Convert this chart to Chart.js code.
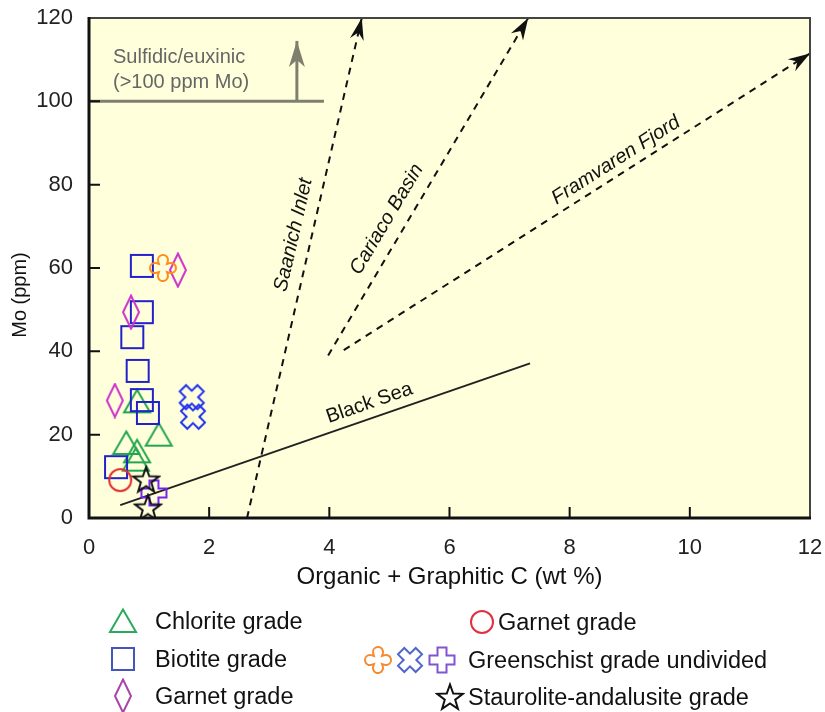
<!DOCTYPE html>
<html>
<head>
<meta charset="utf-8">
<script src="https://cdn.jsdelivr.net/npm/chart.js@4.4.1/dist/chart.umd.min.js"></script>
<style>
  body { margin: 0; background: #fff; font-family: "Liberation Sans", Arial, sans-serif; }
  #wrap { position: relative; width: 825px; height: 712px; }
  .leg { position: absolute; font-size: 23.5px; color: #111; line-height: 26px; white-space: nowrap; }
  .ico { position: absolute; }
</style>
</head>
<body>
<div id="wrap">
  <canvas id="chart" width="825" height="712"></canvas>
  <div id="legend"></div>
</div>
<script>
// --- data ---
const chloriteC = [0.80, 1.16, 0.62, 0.80, 0.78];
const chloriteMo = [28, 20, 18, 16, 14];

const biotiteC = [0.88, 0.88, 0.72, 0.81, 0.88, 0.98, 0.45];
const biotiteMo = [60.5, 49.4, 43.4, 35.3, 28.3, 25.2, 12.2];

const garnetDiamondC = [1.48, 0.70, 0.43];
const garnetDiamondMo = [59.5, 49.4, 28.2];

const garnetCircleC = [0.52];
const garnetCircleMo = [9.1];

const greenOrangeC = [1.23];
const greenOrangeMo = [60];
const greenBlueC = [1.71, 1.73];
const greenBlueMo = [29, 24.3];
const greenPurpleC = [1.08];
const greenPurpleMo = [6];

const stauroliteC = [0.95, 0.98];
const stauroliteMo = [9.2, 2.5];

// trend lines
const blackSeaC = [0.52, 7.34];
const blackSeaMo = [3.1, 37.1];
const saanichC = [2.63, 4.54];
const saanichMo = [0, 120];
const cariacoC = [3.98, 7.31];
const cariacoMo = [39, 120];
const framvarenC = [4.24, 12];
const framvarenMo = [40.3, 111.5];
const sulfidicC = [0, 3.91];
const sulfidicMo = [100, 100];
const sulfArrowC = [3.46, 3.46];
const sulfArrowMo = [100, 114.5];

const xTicks = [0, 2, 4, 6, 8, 10, 12];
const yTicks = [0, 20, 40, 60, 80, 100, 120];

const FONT = '"Liberation Sans", Arial, sans-serif';

function pts(xs, ys) {
  return xs.map((x, i) => ({ x: x, y: ys[i] }));
}

// marker images
function marker(type, color) {
  const s = type === 'diamond' ? [20, 36] : [30, 30];
  const c = document.createElement('canvas');
  c.width = s[0]; c.height = s[1];
  const g = c.getContext('2d');
  const cx = s[0] / 2, cy = s[1] / 2;
  g.strokeStyle = color;
  g.lineWidth = 2;
  g.lineJoin = 'miter';
  g.beginPath();
  if (type === 'tri') {
    g.moveTo(cx, cy - 11.5); g.lineTo(cx + 13, cy + 11); g.lineTo(cx - 13, cy + 11); g.closePath();
  } else if (type === 'sq') {
    g.rect(cx - 11, cy - 11, 22, 22);
  } else if (type === 'diamond') {
    g.moveTo(cx, 1.5); g.lineTo(cx + 8, cy); g.lineTo(cx, s[1] - 1.5); g.lineTo(cx - 8, cy); g.closePath();
  } else if (type === 'circle') {
    g.arc(cx, cy, 11, 0, Math.PI * 2);
  } else if (type === 'plus' || type === 'x') {
    const a = 4.5, L = 12.5;
    g.translate(cx, cy);
    if (type === 'x') { g.rotate(Math.PI / 4); }
    const p = [[a, -a], [L, -a], [L, a], [a, a], [a, L], [-a, L], [-a, a], [-L, a], [-L, -a], [-a, -a], [-a, -L], [a, -L]];
    g.moveTo(p[0][0], p[0][1]);
    p.slice(1).forEach(q => g.lineTo(q[0], q[1]));
    g.closePath();
  } else if (type === 'round') {
    const r = 5, L = 8, n = 4;
    g.translate(cx, cy);
    for (let k = 0; k < 4; k++) {
      const ang = k * Math.PI / 2;
      const ex = Math.cos(ang) * L, ey = Math.sin(ang) * L;
      g.arc(ex, ey, r, ang - Math.PI / 2 - 0.25, ang + Math.PI / 2 + 0.25);
      const nx = Math.cos(ang + Math.PI / 4) * n * Math.SQRT2, ny = Math.sin(ang + Math.PI / 4) * n * Math.SQRT2;
      g.lineTo(nx, ny);
    }
    g.closePath();
  } else if (type === 'star') {
    for (let k = 0; k < 10; k++) {
      const r = k % 2 === 0 ? 13.5 : 5.5;
      const ang = -Math.PI / 2 + k * Math.PI / 5;
      const px = cx + Math.cos(ang) * r, py = cy + 1 + Math.sin(ang) * r;
      if (k === 0) g.moveTo(px, py); else g.lineTo(px, py);
    }
    g.closePath();
  }
  g.stroke();
  return c;
}

const mk = {
  tri: marker('tri', '#22a650'),
  sq: marker('sq', '#2222cc'),
  diamond: marker('diamond', '#cc33cc'),
  circle: marker('circle', '#e03030'),
  round: marker('round', '#ff8c1a'),
  x: marker('x', '#2233ee'),
  plus: marker('plus', '#7722ee'),
  star: marker('star', '#111')
};

function scatterSet(label, xs, ys, img) {
  return { label: label, data: pts(xs, ys), pointStyle: img, pointRadius: 12, showLine: false };
}

function lineSet(label, xs, ys, color, width, dash) {
  return {
    label: label, data: pts(xs, ys), showLine: true, borderColor: color, borderWidth: width,
    borderDash: dash, pointRadius: 0, fill: false, clip: false
  };
}

const datasets = [
  scatterSet('Staurolite-andalusite grade', stauroliteC, stauroliteMo, mk.star),
  scatterSet('Greenschist (orange)', greenOrangeC, greenOrangeMo, mk.round),
  scatterSet('Greenschist (blue)', greenBlueC, greenBlueMo, mk.x),
  scatterSet('Greenschist (purple)', greenPurpleC, greenPurpleMo, mk.plus),
  scatterSet('Garnet grade (circle)', garnetCircleC, garnetCircleMo, mk.circle),
  scatterSet('Garnet grade', garnetDiamondC, garnetDiamondMo, mk.diamond),
  scatterSet('Biotite grade', biotiteC, biotiteMo, mk.sq),
  scatterSet('Chlorite grade', chloriteC, chloriteMo, mk.tri),
  lineSet('Black Sea', blackSeaC, blackSeaMo, '#222', 2, []),
  lineSet('Saanich Inlet', saanichC, saanichMo, '#111', 2, [7, 6]),
  lineSet('Cariaco Basin', cariacoC, cariacoMo, '#111', 2, [7, 6]),
  lineSet('Framvaren Fjord', framvarenC, framvarenMo, '#111', 2, [7, 6]),
  lineSet('Sulfidic', sulfidicC, sulfidicMo, '#7f7f70', 3, []),
  lineSet('Sulfidic arrow', sulfArrowC, sulfArrowMo, '#7f7f70', 3, [])
];

function idxOf(label) {
  return datasets.findIndex(d => d.label === label);
}

function arrowHead(ctx, a, b, len, half, notch, color) {
  const ang = Math.atan2(b.y - a.y, b.x - a.x);
  ctx.save();
  ctx.translate(b.x, b.y);
  ctx.rotate(ang);
  ctx.fillStyle = color;
  ctx.beginPath();
  ctx.moveTo(0, 0);
  ctx.lineTo(-len, -half);
  ctx.lineTo(-len + notch, 0);
  ctx.lineTo(-len, half);
  ctx.closePath();
  ctx.fill();
  ctx.restore();
}

function lineLabel(ctx, chart, label, t, off, italic) {
  const p = chart.getDatasetMeta(idxOf(label)).data;
  const a = p[0], b = p[1];
  const ang = Math.atan2(b.y - a.y, b.x - a.x);
  const x = a.x + (b.x - a.x) * t + Math.sin(ang) * off;
  const y = a.y + (b.y - a.y) * t - Math.cos(ang) * off;
  ctx.save();
  ctx.translate(x, y);
  ctx.rotate(ang);
  ctx.font = (italic ? 'italic ' : '') + '20px ' + FONT;
  ctx.fillStyle = '#111';
  ctx.textAlign = 'center';
  ctx.textBaseline = 'middle';
  ctx.fillText(label, 0, 0);
  ctx.restore();
}

const decor = {
  id: 'decor',
  beforeDraw(chart) {
    const { ctx, chartArea: ca } = chart;
    ctx.save();
    ctx.fillStyle = '#ffffdc';
    ctx.fillRect(ca.left, ca.top, ca.right - ca.left, ca.bottom - ca.top);
    ctx.restore();
  },
  afterDatasetsDraw(chart) {
    const { ctx, chartArea: ca, scales } = chart;
    ['Saanich Inlet', 'Cariaco Basin', 'Framvaren Fjord'].forEach(l => {
      const p = chart.getDatasetMeta(idxOf(l)).data;
      arrowHead(ctx, p[0], p[1], 22, 7, 7, '#111');
    });
    const sa = chart.getDatasetMeta(idxOf('Sulfidic arrow')).data;
    arrowHead(ctx, sa[0], sa[1], 26, 8, 7, '#7f7f70');

    lineLabel(ctx, chart, 'Saanich Inlet', 0.558, 18, true);
    lineLabel(ctx, chart, 'Cariaco Basin', 0.375, 19, true);
    lineLabel(ctx, chart, 'Framvaren Fjord', 0.60, 14, true);
    lineLabel(ctx, chart, 'Black Sea', 0.62, 15, false);

    ctx.save();
    ctx.font = '20px ' + FONT;
    ctx.fillStyle = '#666';
    ctx.textAlign = 'left';
    ctx.textBaseline = 'middle';
    ctx.fillText('Sulfidic/euxinic', ca.left + 24, 57);
    ctx.fillText('(>100 ppm Mo)', ca.left + 24, 82);
    ctx.restore();

    // y axis title (sits below the centre of the axis in the original)
    ctx.save();
    ctx.translate(20, 295);
    ctx.rotate(-Math.PI / 2);
    ctx.font = '20px ' + FONT;
    ctx.fillStyle = '#111';
    ctx.textAlign = 'center';
    ctx.textBaseline = 'middle';
    ctx.fillText('Mo (ppm)', 0, 0);
    ctx.restore();

    // inward ticks
    ctx.save();
    ctx.strokeStyle = '#111';
    ctx.lineWidth = 2;
    ctx.beginPath();
    xTicks.forEach(v => {
      const px = scales.x.getPixelForValue(v);
      ctx.moveTo(px, ca.bottom); ctx.lineTo(px, ca.bottom - 11);
    });
    yTicks.forEach(v => {
      const py = scales.y.getPixelForValue(v);
      ctx.moveTo(ca.left, py); ctx.lineTo(ca.left + 11, py);
    });
    ctx.stroke();

    // frame
    ctx.strokeStyle = '#444';
    ctx.lineWidth = 2;
    ctx.beginPath();
    ctx.moveTo(ca.left, ca.top); ctx.lineTo(ca.right, ca.top); ctx.lineTo(ca.right, ca.bottom);
    ctx.stroke();
    ctx.strokeStyle = '#111';
    ctx.lineWidth = 3;
    ctx.beginPath();
    ctx.moveTo(ca.left, ca.top - 1); ctx.lineTo(ca.left, ca.bottom); ctx.lineTo(ca.right + 1, ca.bottom);
    ctx.stroke();
    ctx.restore();
  }
};

new Chart(document.getElementById('chart'), {
  type: 'scatter',
  data: { datasets: datasets },
  options: {
    responsive: false,
    animation: false,
    devicePixelRatio: 1,
    layout: { padding: { left: 0, right: 15, top: 18, bottom: 118 } },
    plugins: { legend: { display: false }, tooltip: { enabled: false } },
    scales: {
      x: {
        type: 'linear', min: 0, max: 12,
        afterFit: s => { s.height = 76; s.paddingLeft = 0; s.paddingRight = 0; },
        afterBuildTicks: s => { s.ticks = xTicks.map(v => ({ value: v })); },
        grid: { display: false },
        border: { display: false },
        ticks: { padding: 9, color: '#222', font: { family: FONT, size: 22 } },
        title: { display: true, text: 'Organic + Graphitic C (wt %)', color: '#111', padding: { top: 4, bottom: 2 }, font: { family: FONT, size: 24 } }
      },
      y: {
        type: 'linear', min: 0, max: 120,
        afterFit: s => { s.width = 89; s.paddingTop = 0; s.paddingBottom = 0; },
        afterBuildTicks: s => { s.ticks = yTicks.map(v => ({ value: v })); },
        grid: { display: false },
        border: { display: false },
        ticks: { padding: 8, color: '#222', font: { family: FONT, size: 22 } },
        title: { display: false }
      }
    }
  },
  plugins: [decor]
});

// legend (HTML, icons drawn with the same marker shapes)
const legendItems = [
  { icons: [['tri', '#2aaa5a', 123]], text: 'Chlorite grade', tx: 155, y: 621 },
  { icons: [['sq', '#4455bb', 123]], text: 'Biotite grade', tx: 155, y: 659 },
  { icons: [['diamond', '#aa44aa', 123]], text: 'Garnet grade', tx: 155, y: 696 },
  { icons: [['circle', '#e03040', 482]], text: 'Garnet grade', tx: 498, y: 622 },
  { icons: [['round', '#f58a30', 378], ['x', '#5066cc', 410], ['plus', '#8055d0', 442]], text: 'Greenschist grade undivided', tx: 468, y: 660 },
  { icons: [['star', '#111', 450]], text: 'Staurolite-andalusite grade', tx: 468, y: 697 }
];
const legendEl = document.getElementById('legend');
legendItems.forEach(it => {
  it.icons.forEach(ic => {
    const c = marker(ic[0], ic[1]);
    c.className = 'ico';
    c.style.left = (ic[2] - c.width / 2) + 'px';
    c.style.top = (it.y - c.height / 2) + 'px';
    legendEl.appendChild(c);
  });
  const d = document.createElement('div');
  d.className = 'leg';
  d.textContent = it.text;
  d.style.left = it.tx + 'px';
  d.style.top = (it.y - 13) + 'px';
  legendEl.appendChild(d);
});
</script>
</body>
</html>
